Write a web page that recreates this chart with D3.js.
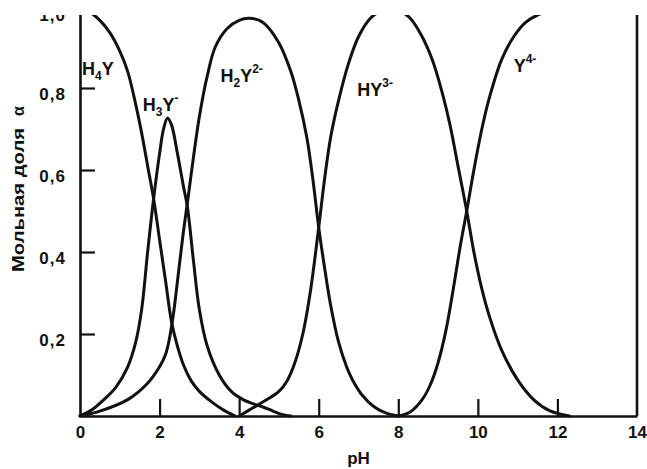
<!DOCTYPE html>
<html>
<head>
<meta charset="utf-8">
<script src="https://cdn.jsdelivr.net/npm/d3@7"></script>
<style>
  body { margin: 0; background: #fff; }
  svg text { font-family: "Liberation Sans", Arial, Helvetica, sans-serif; font-weight: bold; fill: #111; }
</style>
</head>
<body>
<svg id="chart" width="647" height="469"></svg>
<script>
// Molar fraction (α) of each EDTA form versus pH
const h4yPH    = [0, 0.25, 0.5, 0.75, 1.0, 1.2, 1.4, 1.55, 1.7, 1.85, 2.0, 2.15, 2.3, 2.45, 2.6, 2.8, 3.0, 3.3, 3.6, 3.9];
const h4yAlpha = [1.0, 0.985, 0.965, 0.935, 0.89, 0.84, 0.76, 0.69, 0.61, 0.53, 0.43, 0.33, 0.23, 0.17, 0.125, 0.085, 0.06, 0.035, 0.015, 0];

const h3yPH    = [0, 0.3, 0.6, 0.9, 1.2, 1.4, 1.55, 1.7, 1.85, 2.0, 2.1, 2.2, 2.3, 2.45, 2.6, 2.7, 2.85, 3.0, 3.2, 3.5, 3.8, 4.1, 4.35, 4.6, 4.85, 5.1, 5.3];
const h3yAlpha = [0, 0.015, 0.04, 0.07, 0.12, 0.18, 0.26, 0.4, 0.53, 0.64, 0.7, 0.727, 0.71, 0.64, 0.56, 0.51, 0.38, 0.26, 0.17, 0.1, 0.06, 0.04, 0.03, 0.022, 0.012, 0.003, 0];

const h2yPH    = [0, 0.5, 1.2, 1.7, 2.0, 2.15, 2.25, 2.35, 2.5, 2.6, 2.7, 2.85, 3.0, 3.2, 3.4, 3.7, 4.0, 4.25, 4.6, 5.0, 5.3, 5.5, 5.7, 5.85, 6.0, 6.15, 6.3, 6.5, 6.7, 6.85, 7.1, 7.4, 7.7, 8.0];
const h2yAlpha = [0, 0.012, 0.04, 0.08, 0.12, 0.15, 0.19, 0.25, 0.37, 0.45, 0.52, 0.63, 0.73, 0.83, 0.9, 0.945, 0.965, 0.97, 0.96, 0.91, 0.84, 0.77, 0.68, 0.58, 0.46, 0.36, 0.27, 0.18, 0.12, 0.088, 0.05, 0.022, 0.007, 0];

const hyPH     = [4.0, 4.35, 4.7, 5.0, 5.2, 5.4, 5.6, 5.8, 6.0, 6.15, 6.3, 6.5, 6.75, 7.0, 7.3, 7.6, 7.8, 8.0, 8.3, 8.6, 8.85, 9.1, 9.3, 9.5, 9.72, 9.9, 10.1, 10.3, 10.6, 11.0, 11.4, 11.8, 12.3];
const hyAlpha  = [0, 0.02, 0.04, 0.06, 0.085, 0.13, 0.2, 0.31, 0.46, 0.58, 0.68, 0.77, 0.86, 0.925, 0.97, 0.99, 0.995, 0.99, 0.97, 0.925, 0.87, 0.79, 0.71, 0.61, 0.5, 0.4, 0.31, 0.24, 0.16, 0.088, 0.04, 0.013, 0];

const yPH      = [8.0, 8.3, 8.6, 8.8, 9.0, 9.2, 9.4, 9.55, 9.72, 9.9, 10.1, 10.3, 10.6, 10.9, 11.2, 11.5, 12.0, 12.5, 13.0];
const yAlpha   = [0, 0.01, 0.04, 0.075, 0.13, 0.21, 0.32, 0.41, 0.5, 0.6, 0.7, 0.78, 0.87, 0.925, 0.96, 0.978, 0.993, 1.0, 1.0];

// Species names: [text, position] where position is "", "sub" or "sup"
const speciesLabels = [
  { parts: [["H",""],["4","sub"],["Y",""]],               ph: 0.05, a: 0.832 },
  { parts: [["H",""],["3","sub"],["Y",""],["-","sup"]],   ph: 1.58, a: 0.744 },
  { parts: [["H",""],["2","sub"],["Y",""],["2-","sup"]],  ph: 3.53, a: 0.815 },
  { parts: [["HY",""],["3-","sup"]],                      ph: 6.97, a: 0.78 },
  { parts: [["Y",""],["4-","sup"]],                       ph: 10.9, a: 0.839 }
];

const xTicks = [0, 2, 4, 6, 8, 10, 12, 14];
const yTicks = [0.2, 0.4, 0.6, 0.8, 1.0];
const yTickLabels = ["0,2", "0,4", "0,6", "0,8", "1,0"];

const svg = d3.select("#chart");
const x = d3.scaleLinear().domain([0, 14]).range([80, 637]);
const y = d3.scaleLinear().domain([0, 1]).range([416, 6]);

// the figure is trimmed along its top edge
svg.append("defs").append("clipPath").attr("id", "trim")
  .append("rect").attr("x", 0).attr("y", 15).attr("width", 647).attr("height", 454);

const g = svg.append("g").attr("clip-path", "url(#trim)");

// axes
const xAxis = g.append("g").attr("transform", `translate(0,${y(0)})`)
  .call(d3.axisBottom(x).tickValues(xTicks).tickSizeInner(-17).tickSizeOuter(0)
    .tickPadding(12).tickFormat(d3.format("d")));
const yAxis = g.append("g").attr("transform", `translate(${x(0)},0)`)
  .call(d3.axisLeft(y).tickValues(yTicks).tickSizeInner(-15).tickSizeOuter(0)
    .tickPadding(14).tickFormat((d, i) => yTickLabels[i]));

[xAxis, yAxis].forEach(a => {
  a.select(".domain").attr("stroke", "#111").attr("stroke-width", 2.6);
  a.selectAll(".tick line").attr("stroke", "#111").attr("stroke-width", 2.2);
  a.selectAll(".tick text").attr("font-size", 17).attr("fill", "#111")
    .style("font-family", "'Liberation Sans', Arial, sans-serif").style("font-weight", "bold");
});
xAxis.selectAll(".tick text").attr("dy", "0.6em");
yAxis.selectAll(".tick text").attr("dy", "0.68em").attr("letter-spacing", 1);
// the top label sits a little lower, just under the trimmed edge
yAxis.selectAll(".tick text").filter(d => d === 1).attr("dy", "0.85em");
// 0 and 14 are marked by the frame itself
xAxis.selectAll(".tick line").filter(d => d === 0 || d === 14).remove();

// right frame edge
g.append("line")
  .attr("x1", x(14)).attr("x2", x(14)).attr("y1", y(0)).attr("y2", y(1))
  .attr("stroke", "#111").attr("stroke-width", 2.6);

// curves
const line = d3.line().x(d => x(d[0])).y(d => y(d[1])).curve(d3.curveCatmullRom.alpha(0.5));
const series = [
  [h4yPH, h4yAlpha], [h3yPH, h3yAlpha], [h2yPH, h2yAlpha], [hyPH, hyAlpha], [yPH, yAlpha]
];
g.append("g").selectAll("path").data(series).join("path")
  .attr("d", s => line(d3.zip(s[0], s[1])))
  .attr("fill", "none").attr("stroke", "#111").attr("stroke-width", 3)
  .attr("stroke-linejoin", "round").attr("stroke-linecap", "round");

// species labels with sub/superscripts
speciesLabels.forEach(lab => {
  const t = g.append("text").attr("x", x(lab.ph)).attr("y", y(lab.a)).attr("font-size", 18);
  let shift = 0;
  lab.parts.forEach(([txt, pos]) => {
    const target = pos === "sub" ? 5 : pos === "sup" ? -9 : 0;
    t.append("tspan").attr("dy", target - shift)
      .attr("font-size", pos ? 12 : 18).text(txt);
    shift = target;
  });
});

// axis titles
g.append("text").attr("x", x(7)).attr("y", 464).attr("text-anchor", "middle")
  .attr("font-size", 17).text("pH");
g.append("text").attr("transform", "translate(24,200) rotate(-90)")
  .attr("text-anchor", "middle").attr("font-size", 16)
  .attr("textLength", 144).attr("lengthAdjust", "spacingAndGlyphs").text("Мольная доля");
g.append("text").attr("transform", "translate(24,111) rotate(-90)")
  .attr("text-anchor", "middle").attr("font-size", 16).text("α");
</script>
</body>
</html>
